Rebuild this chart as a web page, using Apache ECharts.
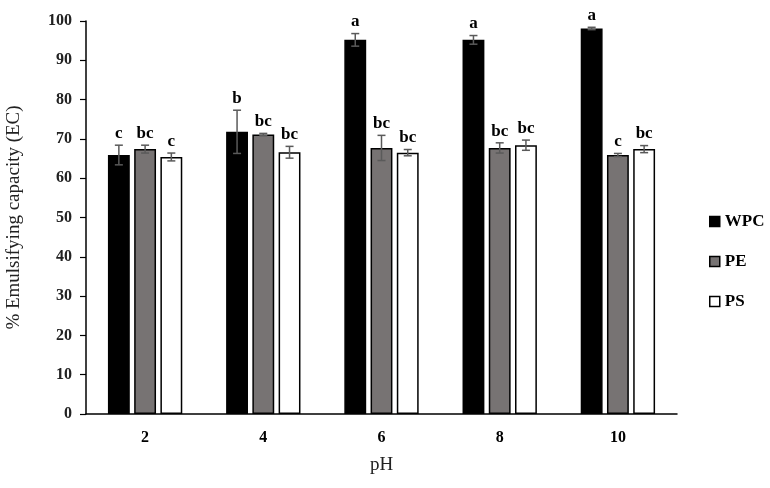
<!DOCTYPE html>
<html><head><meta charset="utf-8">
<script src="https://cdn.jsdelivr.net/npm/echarts@6/dist/echarts.min.js"></script>
<style>html,body{margin:0;padding:0;background:#fff}#c{width:770px;height:488px}</style>
</head><body><div id="c"></div>
<script>
const categories = ['2', '4', '6', '8', '10'];
const seriesNames = ['WPC', 'PE', 'PS'];
const wpc = [65.9, 71.8, 95.2, 95.2, 98.1];
const pe = [67.4, 71.1, 67.7, 67.7, 65.9];
const ps = [65.4, 66.6, 66.5, 68.4, 67.4];
const wpcErr = [2.5, 5.5, 1.6, 1.1, 0.3];
const peErr = [1.0, 0.3, 3.2, 1.3, 0.4];
const psErr = [1.0, 1.5, 0.8, 1.3, 0.9];
const wpcLetters = ['c', 'b', 'a', 'a', 'a'];
const peLetters = ['bc', 'bc', 'bc', 'bc', 'c'];
const psLetters = ['c', 'bc', 'bc', 'bc', 'bc'];

const values = [wpc, pe, ps];
const errs = [wpcErr, peErr, psErr];
const letters = [wpcLetters, peLetters, psLetters];
const fills = ['#000000', '#777373', '#ffffff'];
const BAR_FRAC = 0.185, GAP_FRAC = 0.2;
const serif = '"Liberation Serif", "DejaVu Serif", serif';

const chart = echarts.init(document.getElementById('c'));
const series = [];
values.forEach((vals, i) => {
  series.push({
    name: seriesNames[i], type: 'bar', data: vals,
    barWidth: (BAR_FRAC * 100) + '%', barGap: (GAP_FRAC * 100) + '%',
    itemStyle: { color: fills[i], borderColor: '#000', borderWidth: 1.5 },
    animation: false
  });
});
values.forEach((vals, i) => {
  series.push({
    type: 'custom', name: seriesNames[i] + ' err', z: 10, animation: false,
    data: vals.map((v, j) => [j, v, errs[i][j], letters[i][j]]),
    renderItem: function (params, api) {
      const band = api.size([1, 0])[0];
      const bw = band * BAR_FRAC;
      const off = (i - 1) * bw * (1 + GAP_FRAC);
      const c = api.coord([api.value(0), api.value(1)]);
      const hi = api.coord([api.value(0), api.value(1) + api.value(2)]);
      const lo = api.coord([api.value(0), api.value(1) - api.value(2)]);
      const x = c[0] + off;
      const cap = 4;
      const st = { stroke: '#5a5a5a', lineWidth: 1.5 };
      return {
        type: 'group', children: [
          { type: 'line', shape: { x1: x, y1: hi[1], x2: x, y2: lo[1] }, style: st },
          { type: 'line', shape: { x1: x - cap, y1: hi[1], x2: x + cap, y2: hi[1] }, style: st },
          { type: 'line', shape: { x1: x - cap, y1: lo[1], x2: x + cap, y2: lo[1] }, style: st },
          { type: 'text', x: x, y: hi[1] - 3, style: { text: letters[i][params.dataIndex], fill: '#000', font: 'bold 17px ' + serif, align: 'center', verticalAlign: 'bottom' } }
        ]
      };
    }
  });
});

chart.setOption({
  animation: false,
  grid: { left: 86, right: 93, top: 21, bottom: 74, containLabel: false, outerBoundsMode: 'none' },
  legend: {
    data: seriesNames, orient: 'vertical', left: 704, top: 208,
    icon: 'rect', itemWidth: 10, itemHeight: 10, itemGap: 23,
    itemStyle: { borderColor: '#000', borderWidth: 1.5 },
    textStyle: { fontFamily: serif, fontSize: 17, fontWeight: 'bold', color: '#000' }
  },
  xAxis: {
    type: 'category', data: categories,
    name: 'pH', nameLocation: 'middle', nameGap: 42,
    nameTextStyle: { fontFamily: serif, fontSize: 19, color: '#222' },
    axisLine: { lineStyle: { color: '#000', width: 1.5 } },
    axisTick: { show: false },
    axisLabel: { fontFamily: serif, fontSize: 16, fontWeight: 'bold', color: '#000', margin: 16 }
  },
  yAxis: {
    type: 'value', min: 0, max: 100, interval: 10,
    name: '% Emulsifying capacity (EC)', nameLocation: 'middle', nameGap: 62,
    nameTextStyle: { fontFamily: serif, fontSize: 19, color: '#222' },
    splitLine: { show: false },
    axisLine: { show: true, lineStyle: { color: '#000', width: 1.5 } },
    axisTick: { show: true, length: 6, lineStyle: { color: '#000', width: 1.2 } },
    axisLabel: { fontFamily: serif, fontSize: 16, fontWeight: 'bold', color: '#222', margin: 14 }
  },
  series: series
});
</script></body></html>
